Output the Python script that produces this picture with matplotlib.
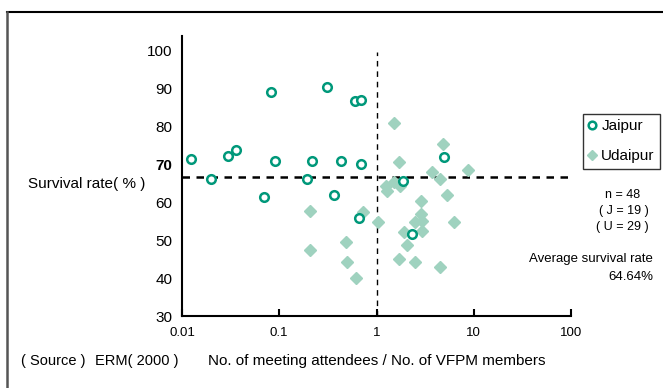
"""
Survival rate vs. ratio of meeting attendees to VFPM members (Jaipur / Udaipur).
"""

import matplotlib
matplotlib.use("Agg")
import matplotlib.pyplot as plt
from matplotlib.lines import Line2D

plt.rcParams["font.family"] = ["Liberation Sans", "DejaVu Sans"]

# --- data ---
jaipur_x = [0.0123, 0.0201, 0.0294, 0.0356, 0.0814, 0.069, 0.0895, 0.313, 0.191,
            0.215, 0.427, 0.364, 0.598, 0.697, 0.69, 0.658, 1.89, 4.92, 2.31]
jaipur_y = [71.3, 66.0, 72.1, 73.7, 88.9, 61.3, 70.8, 90.3, 66.0,
            70.8, 70.8, 61.8, 86.6, 86.8, 70.1, 55.9, 65.5, 71.8, 51.5]

udaipur_x = [1.51, 4.81, 1.72, 3.70, 8.67, 4.48, 1.24, 1.29, 1.53, 1.74,
             5.29, 2.88, 2.88, 2.46, 2.95, 6.33, 1.03, 1.93, 2.95, 2.05,
             1.72, 2.50, 4.51, 0.205, 0.205, 0.489, 0.50, 0.613, 0.73]
udaipur_y = [80.7, 75.3, 70.6, 67.9, 68.5, 66.0, 64.2, 62.8, 65.3, 64.2,
             61.9, 60.3, 56.8, 54.7, 55.1, 54.7, 54.7, 52.0, 52.4, 48.7,
             44.9, 44.2, 42.8, 57.7, 47.3, 49.4, 44.3, 40.1, 57.3]

avg_line_y = 66.6          # drawn position of the average line
x_ticks = [0.01, 0.1, 1, 10, 100]
x_tick_labels = ["0.01", "0.1", "1", "10", "100"]
y_ticks = [30, 40, 50, 60, 70, 80, 90, 100]

JAIPUR_COLOR  = "#00987A"
UDAIPUR_COLOR = "#9FD2BF"

W, H = 663, 388
fig = plt.figure(figsize=(W / 100, H / 100), dpi=100)
ax = fig.add_axes([182 / W, 1 - 316 / H, (571 - 182) / W, (316 - 36) / H])

ax.set_xscale("log")
ax.set_xlim(0.01, 100)
ax.set_ylim(30, 103.7)

# reference lines
ax.plot([0.01, 100], [avg_line_y, avg_line_y], color="black", lw=1.8,
        linestyle=(0, (3, 2.6)), zorder=1)
ax.plot([1, 1], [30, 99.5], color="black", lw=1.0,
        linestyle=(0, (4, 3.5)), zorder=1)

ax.plot(udaipur_x, udaipur_y, linestyle="none", marker="D", ms=5.7,
        mfc=UDAIPUR_COLOR, mec=UDAIPUR_COLOR, zorder=2, label="Udaipur")
ax.plot(jaipur_x, jaipur_y, linestyle="none", marker="o", ms=6.2,
        mfc="white", mec=JAIPUR_COLOR, mew=1.8, zorder=3, label="Jaipur")

# axes styling
for side in ["top", "right"]:
    ax.spines[side].set_visible(False)
for side in ["left", "bottom"]:
    ax.spines[side].set_linewidth(1.5)

ax.set_xticks(x_ticks)
ax.set_xticklabels(x_tick_labels)
ax.xaxis.set_minor_locator(plt.NullLocator())
ax.tick_params(axis="x", direction="in", length=5, width=1.5, pad=8,
               labelsize=9.5)
ax.set_yticks(y_ticks)
ax.tick_params(axis="y", length=0, pad=7, labelsize=11)
for lbl in ax.get_yticklabels():
    if lbl.get_text() == "70":
        lbl.set_fontweight("bold")

# texts outside axes
fig.text(28 / W, 1 - 184 / H, "Survival rate( % )", fontsize=11,
         ha="left", va="center")
fig.text(21 / W, 1 - 361 / H, "( Source )", fontsize=10.5,
         ha="left", va="center")
fig.text(95 / W, 1 - 361 / H, "ERM( 2000 )", fontsize=10.5,
         ha="left", va="center")
fig.text(208 / W, 1 - 361 / H, "No. of meeting attendees / No. of VFPM members",
         fontsize=11, ha="left", va="center")

fig.text(623 / W, 1 - 195 / H, "n = 48", fontsize=9, ha="center", va="center")
fig.text(649 / W, 1 - 211 / H, "( J = 19 )", fontsize=9, ha="right", va="center")
fig.text(649 / W, 1 - 227 / H, "( U = 29 )", fontsize=9, ha="right", va="center")
fig.text(653 / W, 1 - 259 / H, "Average survival rate", fontsize=9.5,
         ha="right", va="center")
fig.text(653 / W, 1 - 277 / H, "64.64%", fontsize=9.5, ha="right", va="center")

# legend
handles = [
    Line2D([], [], linestyle="none", marker="o", ms=5.5, mfc="white",
           mec=JAIPUR_COLOR, mew=1.8),
    Line2D([], [], linestyle="none", marker="D", ms=5, mfc=UDAIPUR_COLOR,
           mec=UDAIPUR_COLOR),
]
leg = fig.legend(handles, ["Jaipur", "Udaipur"], loc="upper left",
                 bbox_to_anchor=(583 / W, 1 - 114 / H), fontsize=11,
                 frameon=True, fancybox=False, edgecolor="black",
                 handlelength=0.5, handletextpad=0.35, labelspacing=1.05,
                 borderpad=0.35, borderaxespad=0)
leg.get_frame().set_linewidth(1.0)

# outer frame (top and left edges only)
fig.add_artist(Line2D([7 / W, 1], [1 - 11.5 / H, 1 - 11.5 / H],
                      color="black", lw=1.5))
fig.add_artist(Line2D([7 / W, 7 / W], [0, 1 - 11.5 / H],
                      color="#555555", lw=1.8))

fig.savefig("out.png", dpi=100)
